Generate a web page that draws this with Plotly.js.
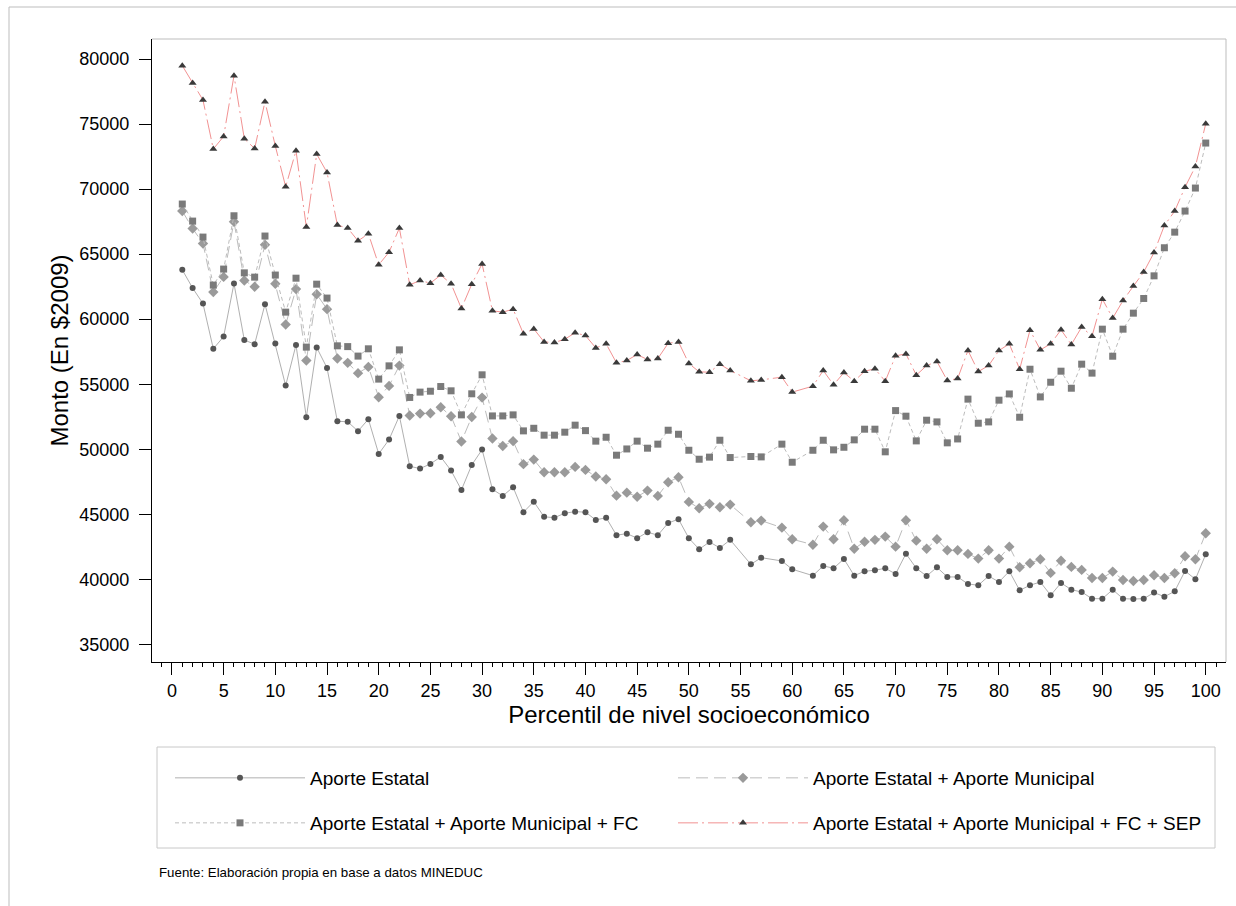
<!DOCTYPE html>
<html>
<head>
<meta charset="utf-8">
<script src="https://cdn.plot.ly/plotly-3.0.1.min.js"></script>
<style>html,body{margin:0;padding:0;background:#fff;}#chart{width:1236px;height:906px;}</style>
</head>
<body>
<div id="chart"></div>
<script>
// Percentiles (55, 58 and 61 have no data in the reference)
const percentiles = [1,2,3,4,5,6,7,8,9,10,11,12,13,14,15,16,17,18,19,20,21,22,23,24,25,26,27,28,29,30,31,32,33,34,35,36,37,38,39,40,41,42,43,44,45,46,47,48,49,50,51,52,53,54,56,57,59,60,62,63,64,65,66,67,68,69,70,71,72,73,74,75,76,77,78,79,80,81,82,83,84,85,86,87,88,89,90,91,92,93,94,95,96,97,98,99,100];

const aporteEstatal = [63790,62390,61200,57720,58660,62740,58390,58080,61150,58120,54890,58020,52460,57820,56250,52150,52110,51390,52310,49640,50740,52560,48690,48510,48870,49410,48360,46870,48790,49970,46920,46410,47080,45160,45970,44800,44740,45080,45200,45160,44560,44740,43390,43510,43160,43620,43390,44330,44620,43160,42310,42870,42410,43030,41150,41660,41410,40770,40280,41030,40850,41560,40280,40620,40690,40850,40410,41970,40850,40250,40920,40180,40180,39640,39540,40250,39790,40620,39150,39540,39790,38770,39720,39200,39020,38510,38510,39200,38510,38480,38510,38980,38660,39080,40640,40000,41920];

const aporteMunicipal = [68310,66970,65820,62080,63250,67490,62970,62490,65720,62720,59590,62310,56820,61920,60770,56970,56640,55850,56330,54000,54870,56430,52590,52740,52770,53230,52540,50590,52480,53970,50820,50250,50620,48850,49200,48230,48230,48230,48640,48410,47900,47690,46430,46660,46350,46820,46410,47460,47850,45950,45460,45800,45540,45740,44390,44510,43970,43080,42660,44050,43080,44540,42350,42890,43030,43280,42510,44540,42970,42350,43080,42230,42230,41950,41590,42230,41590,42510,40920,41230,41540,40490,41420,40950,40720,40100,40100,40590,39950,39870,39950,40310,40100,40460,41770,41540,43540];

const aporteFC = [68850,67540,66310,62620,63850,67950,63560,63230,66390,63390,60540,63150,57850,62690,61620,57950,57890,57160,57720,55390,56410,57640,53980,54390,54460,54820,54490,52640,54260,55720,52560,52560,52640,51410,51610,51080,51080,51310,51850,51430,50620,50920,49540,50020,50620,50080,50390,51460,51150,49920,49230,49390,50690,49360,49440,49410,50390,49000,49920,50690,49950,50150,50720,51540,51540,49800,52970,52540,50640,52230,52100,50490,50790,53850,52000,52100,53770,54250,52460,56150,54020,55150,56000,54690,56540,55850,59230,57150,59230,60460,61590,63330,65490,66690,68310,70080,73540];

const aporteSEP = [79490,78150,76850,73080,74050,78720,73870,73120,76720,73310,70180,72950,67080,72690,71280,67230,67000,66020,66560,64180,65150,67000,62640,62970,62770,63390,62720,60820,62690,64250,60640,60540,60770,58870,59250,58250,58200,58460,58950,58740,57790,58100,56640,56820,57280,56890,56970,58150,58250,56590,55950,55920,56540,56050,55260,55330,55540,54390,54850,56050,54950,55890,55230,56000,56180,55230,57180,57330,55690,56430,56740,55280,55430,57590,55970,56430,57590,58100,56150,59150,57640,58100,59180,58050,59390,58690,61540,60080,61430,62540,63620,65120,67200,68310,70150,71740,75020];

const seriesNames = [
  "Aporte Estatal",
  "Aporte Estatal + Aporte Municipal",
  "Aporte Estatal + Aporte Municipal + FC",
  "Aporte Estatal + Aporte Municipal + FC + SEP"
];

const xTickVals = [0,5,10,15,20,25,30,35,40,45,50,55,60,65,70,75,80,85,90,95,100];
const yTickVals = [35000,40000,45000,50000,55000,60000,65000,70000,75000,80000];

const FONT = "Liberation Sans, Arial, Helvetica, sans-serif";

const traces = [
  {x: percentiles, y: aporteEstatal, name: seriesNames[0], type: "scatter", mode: "lines+markers",
   line: {color: "#b0b0b0", width: 1},
   marker: {symbol: "circle", size: 6, color: "#555555"}, legend: "legend"},
  {x: percentiles, y: aporteMunicipal, name: seriesNames[1], type: "scatter", mode: "lines+markers",
   line: {color: "#bcbcbc", width: 1, dash: "12px,6px"},
   marker: {symbol: "diamond", size: 8, color: "#9a9a9a"}, legend: "legend2"},
  {x: percentiles, y: aporteFC, name: seriesNames[2], type: "scatter", mode: "lines+markers",
   line: {color: "#bcbcbc", width: 1, dash: "4px,3px"},
   marker: {symbol: "square", size: 7, color: "#7a7a7a"}, legend: "legend3"},
  {x: percentiles, y: aporteSEP, name: seriesNames[3], type: "scatter", mode: "lines+markers",
   line: {color: "rgba(236,110,110,0.75)", width: 1, dash: "20px,4px,2px,4px"},
   marker: {symbol: "triangle-up", size: 7, color: "#3a3a3a"}, legend: "legend4"}
];

const PL = 152, PT = 39, PR = 10, PB = 244;
const plotW = 1236 - PL - PR, plotH = 906 - PT - PB;
const px = v => (v - PL) / plotW;
const py = v => (906 - PB - v) / plotH;

const legendCommon = {
  orientation: "h", xanchor: "left", yanchor: "middle",
  font: {family: FONT, size: 19, color: "#000"},
  bgcolor: "rgba(0,0,0,0)", borderwidth: 0,
  itemwidth: 130,
  itemclick: false, itemdoubleclick: false
};

const layout = {
  width: 1236, height: 906,
  margin: {l: PL, r: PR, t: PT, b: PB},
  paper_bgcolor: "#ffffff", plot_bgcolor: "#ffffff",
  font: {family: FONT, color: "#000"},
  showlegend: true,
  xaxis: {
    range: [-1.93, 101.96], tickmode: "array", tickvals: xTickVals,
    ticks: "outside", ticklen: 12, tickcolor: "#000", tickwidth: 1,
    minor: {dtick: 1, tick0: 0, ticks: "outside", ticklen: 4, tickcolor: "#000"},
    showline: true, linecolor: "#000", linewidth: 1, showgrid: false, zeroline: false,
    tickfont: {family: FONT, size: 18, color: "#000"},
    title: {text: "Percentil de nivel socioeconómico", font: {family: FONT, size: 24, color: "#000"}, standoff: 4}
  },
  yaxis: {
    range: [33640, 81540], tickmode: "array", tickvals: yTickVals, tickformat: "d",
    ticks: "outside", ticklen: 12, tickcolor: "#000", tickwidth: 1,
    showline: true, linecolor: "#000", linewidth: 1, showgrid: false, zeroline: false,
    tickfont: {family: FONT, size: 18, color: "#000"}, ticklabelstandoff: 6,
    title: {text: "Monto (En $2009)", font: {family: FONT, size: 24, color: "#000"}, standoff: 3}
  },
  legend: Object.assign({}, legendCommon, {x: px(170), y: py(778)}),
  legend2: Object.assign({}, legendCommon, {x: px(673), y: py(778)}),
  legend3: Object.assign({}, legendCommon, {x: px(170), y: py(823)}),
  legend4: Object.assign({}, legendCommon, {x: px(673), y: py(823)}),
  shapes: [
    // plot frame (top and right)
    {type: "line", xref: "paper", yref: "paper", x0: 0, x1: 1, y0: 1, y1: 1, line: {color: "#bdbdbd", width: 1}},
    {type: "line", xref: "paper", yref: "paper", x0: 1, x1: 1, y0: 0, y1: 1, line: {color: "#bdbdbd", width: 1}},
    // outer frame
    {type: "line", xref: "paper", yref: "paper", x0: px(9), x1: px(1240), y0: py(7), y1: py(7), line: {color: "#bdbdbd", width: 1}},
    {type: "line", xref: "paper", yref: "paper", x0: px(9), x1: px(9), y0: py(7), y1: py(910), line: {color: "#bdbdbd", width: 1}},
    // legend box
    {type: "rect", xref: "paper", yref: "paper", x0: px(157), x1: px(1215), y0: py(747), y1: py(848), line: {color: "#c8c8c8", width: 1}, fillcolor: "rgba(0,0,0,0)"}
  ],
  annotations: [
    {xref: "paper", yref: "paper", x: px(157), y: py(872), xanchor: "left", yanchor: "middle", showarrow: false,
     text: "Fuente: Elaboración propia en base a datos MINEDUC", font: {family: FONT, size: 13.3, color: "#000"}}
  ]
};

Plotly.newPlot("chart", traces, layout, {displayModeBar: false, staticPlot: true});
</script>
</body>
</html>
